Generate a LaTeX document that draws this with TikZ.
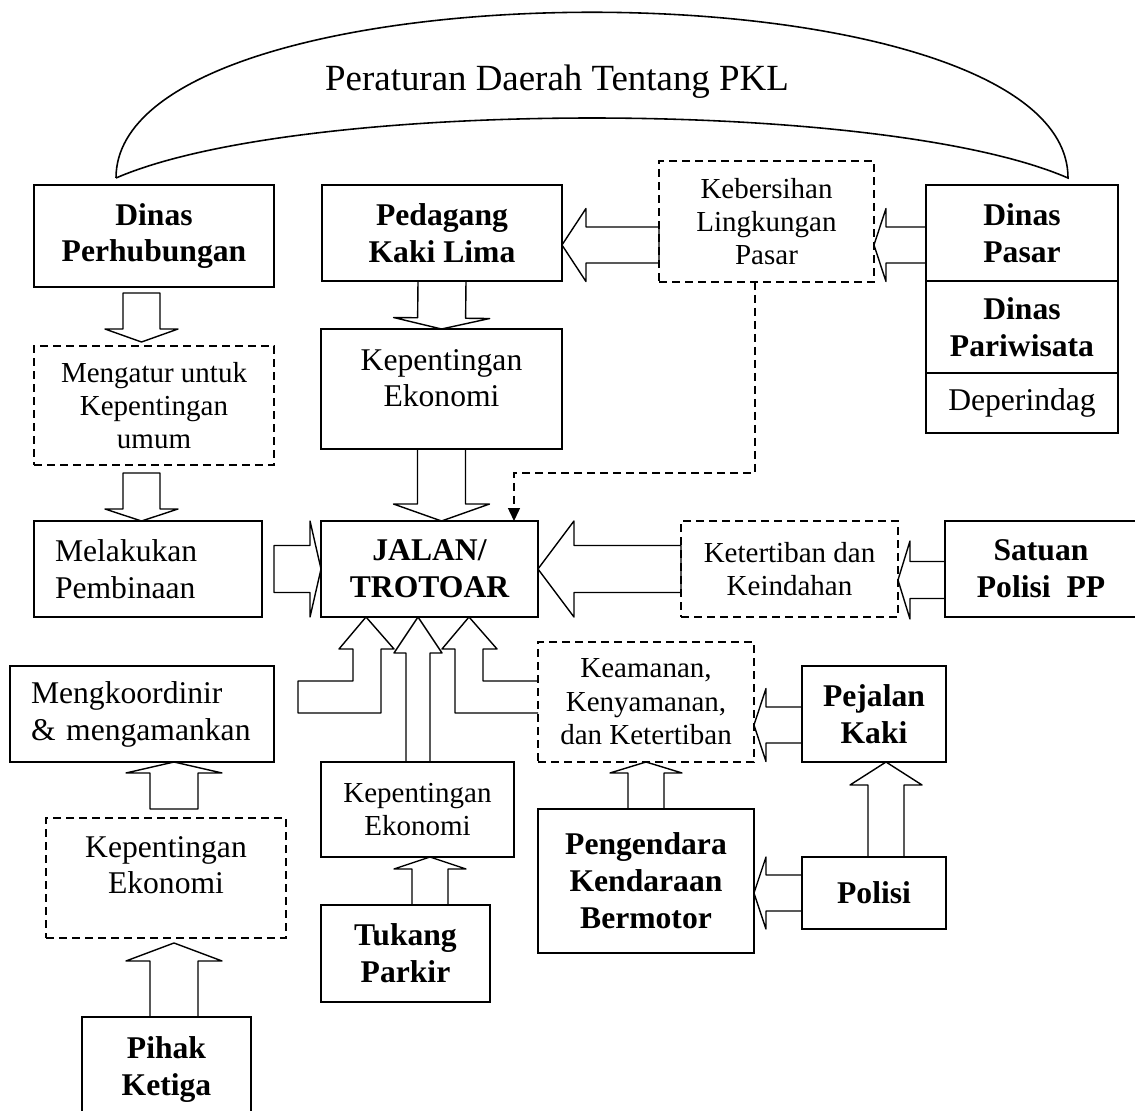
\documentclass[tikz,border=0pt]{standalone}
\usepackage{fontspec}
\setmainfont{Liberation Serif}
\usepackage{tikz}
\usetikzlibrary{arrows.meta,positioning,calc}

\newcommand{\bigtxt}{\fontsize{18}{21}\selectfont}
\newcommand{\smalltxt}{\fontsize{16.5}{19}\selectfont}
\newcommand{\titletxt}{\fontsize{21}{25}\selectfont}

% outlined block arrow: tail, tip, half shaft, half head, head length
\newcommand{\blockarrow}[5]{%
  \coordinate (ba-t) at (#1);
  \coordinate (ba-p) at (#2);
  \coordinate (ba-h) at ($(ba-p)!#5!(ba-t)$);
  \draw[fatarrow] ($(ba-t)!#3!90:(ba-p)$) -- ($(ba-h)!#3!90:(ba-p)$) -- ($(ba-h)!#4!90:(ba-p)$)
    -- (ba-p) -- ($(ba-h)!#4!-90:(ba-p)$) -- ($(ba-h)!#3!-90:(ba-p)$) -- ($(ba-t)!#3!-90:(ba-p)$) -- cycle;
}

\tikzset{
  box/.style={draw,line width=1pt,align=center,inner sep=2pt,outer sep=0pt,font=\bigtxt},
  boldbox/.style={box,font=\bfseries\bigtxt},
  dashbox/.style={box,line width=0.8pt,dash pattern=on 0.16cm off 0.1cm,font=\smalltxt},
  fatarrow/.style={line width=0.8pt,line join=round},
  dashline/.style={line width=0.8pt,dash pattern=on 0.16cm off 0.1cm,-{Triangle[length=0.26cm,width=0.24cm]}},
}

\begin{document}
\begin{tikzpicture}[x=0.02cm,y=-0.02cm]
  \useasboundingbox (0,0) rectangle (1135,1111);

  % top row
  \node[boldbox,minimum width=4.8cm,minimum height=2.04cm] (perhub) at (154,236) {Dinas\\Perhubungan};
  \node[boldbox,minimum width=4.8cm,minimum height=1.92cm] (pkl) at (442,233) {Pedagang\\Kaki Lima};
  \node[dashbox,minimum width=4.3cm,minimum height=2.42cm] (kebersihan) at (766.5,221.5) {Kebersihan\\Lingkungan\\Pasar};
  \node[boldbox,minimum width=3.84cm,minimum height=1.92cm] (dpasar) at (1022,233) {Dinas\\Pasar};
  \node[boldbox,minimum width=3.84cm,minimum height=1.84cm,below=0pt of dpasar] (pariwisata) {Dinas\\Pariwisata};
  \node[box,minimum width=3.84cm,minimum height=1.2cm,below=0pt of pariwisata] (deperindag) {Deperindag};

  % perda arc
  \node[font=\titletxt,anchor=base] (perda) at (557,91) {Peraturan Daerah Tentang PKL};
  \coordinate (arcL) at ($(perhub.north)+(-38,-7)$);
  \coordinate (arcR) at ($(dpasar.north)+(46,-7)$);
  \draw[line width=0.9pt] (arcL) .. controls +(0,-221) and +(0,-221) .. (arcR)
    .. controls +(-184,-80) and +(184,-80) .. (arcL);

  % middle
  \node[dashbox,minimum width=4.8cm,minimum height=2.38cm] (mengatur) at (154,405.5) {Mengatur untuk\\Kepentingan\\umum};
  \node[box,minimum width=4.82cm,minimum height=2.4cm,text depth=0.44cm] (kepeko1) at (441.5,389) {Kepentingan\\Ekonomi};
  \node[box,align=left,text width=3.72cm,inner xsep=0.42cm,minimum height=1.92cm] (melakukan) at (148,569) {Melakukan\\Pembinaan};
  \node[boldbox,minimum width=4.34cm,minimum height=1.92cm] (jalan) at (429.5,569) {JALAN/\\TROTOAR};
  \node[dashbox,minimum width=4.34cm,minimum height=1.92cm] (ketertiban) at (789.5,569) {Ketertiban dan\\Keindahan};
  \node[boldbox,minimum width=3.84cm,minimum height=1.92cm] (satuan) at (1041,569) {Satuan\\Polisi~~PP};

  % bottom
  \node[box,align=left,text width=4.44cm,inner xsep=0.42cm,minimum height=1.92cm] (mengkoord) at (142,714) {Mengkoordinir\\\& mengamankan};
  \node[dashbox,font=\bigtxt,minimum width=4.8cm,minimum height=2.4cm,text depth=0.52cm] (kepeko3) at (166,878) {Kepentingan\\Ekonomi};
  \node[boldbox,minimum width=3.38cm,minimum height=2.38cm,text depth=0.41cm] (pihak) at (166.5,1076.5) {Pihak\\Ketiga};
  \node[box,font=\smalltxt,minimum width=3.86cm,minimum height=1.9cm] (kepeko2) at (417.5,809.5) {Kepentingan\\Ekonomi};
  \node[boldbox,minimum width=3.38cm,minimum height=1.94cm] (tukang) at (405.5,953.5) {Tukang\\Parkir};
  \node[dashbox,minimum width=4.32cm,minimum height=2.4cm] (keamanan) at (646,702) {Keamanan,\\Kenyamanan,\\dan Ketertiban};
  \node[boldbox,minimum width=2.88cm,minimum height=1.92cm] (pejalan) at (874,714) {Pejalan\\Kaki};
  \node[boldbox,minimum width=4.32cm,minimum height=2.88cm] (pengendara) at (646,881) {Pengendara\\Kendaraan\\Bermotor};
  \node[boldbox,minimum width=2.88cm,minimum height=1.44cm] (polisi) at (874,893) {Polisi};

  % block arrows
  \blockarrow{$(perhub.south)+(-12.5,6)$}{$(mengatur.north)+(-12.5,-4)$}{0.37cm}{0.73cm}{0.26cm}
  \blockarrow{$(mengatur.south)+(-12.5,8)$}{$(melakukan.north)+(-6.5,0)$}{0.37cm}{0.73cm}{0.24cm}
  \blockarrow{pkl.south}{kepeko1.north}{0.48cm}{0.96cm}{0.22cm}
  \blockarrow{kepeko1.south}{$(jalan.north)+(12,0)$}{0.48cm}{0.96cm}{0.34cm}
  \blockarrow{$(kebersihan.west)+(0,23.5)$}{$(pkl.east)+(0,12)$}{0.36cm}{0.73cm}{0.48cm}
  \blockarrow{$(dpasar.west)+(0,12)$}{$(kebersihan.east)+(0,23.5)$}{0.36cm}{0.73cm}{0.24cm}
  \blockarrow{$(melakukan.east)+(12,0)$}{jalan.west}{0.47cm}{0.96cm}{0.22cm}
  \blockarrow{ketertiban.west}{jalan.east}{0.47cm}{0.96cm}{0.72cm}
  \blockarrow{$(satuan.west)+(0,11)$}{$(ketertiban.east)+(0,11)$}{0.37cm}{0.78cm}{0.24cm}
  \blockarrow{$(tukang.north)+(24.5,0)$}{$(kepeko2.south)+(12.5,0)$}{0.36cm}{0.72cm}{0.24cm}
  \blockarrow{$(kepeko3.north)+(8,-9)$}{$(mengkoord.south)+(32,0)$}{0.48cm}{0.96cm}{0.22cm}
  \blockarrow{$(pihak.north)+(7.5,0)$}{$(kepeko3.south)+(8,5)$}{0.48cm}{0.96cm}{0.36cm}
  \blockarrow{$(kepeko2.north)+(0.5,0)$}{$(jalan.south)+(-11.5,0)$}{0.24cm}{0.48cm}{0.72cm}
  \blockarrow{pengendara.north}{keamanan.south}{0.36cm}{0.72cm}{0.22cm}
  \blockarrow{$(pejalan.west)+(0,11)$}{$(keamanan.east)+(0,23)$}{0.36cm}{0.73cm}{0.24cm}
  \blockarrow{$(polisi.north)+(12,0)$}{$(pejalan.south)+(12,0)$}{0.36cm}{0.72cm}{0.46cm}
  \blockarrow{polisi.west}{$(pengendara.east)+(0,12)$}{0.36cm}{0.72cm}{0.24cm}

  % bent arrows under the road box
  \coordinate (jl) at ($(jalan.south)+(-63.5,0)$);
  \coordinate (jr) at ($(jalan.south)+(39.5,0)$);
  \draw[fatarrow] (jl) -- ++(28,32) -- ++(-13,0) -- ++(0,64) -- ++(-83,0) -- ++(0,-32) -- ++(55,0) -- ++(0,-32) -- ++(-14,0) -- cycle;
  \draw[fatarrow] ($(keamanan.west)+(0,-21)$) -| ++(-55,-32) -- ++(14,0) -- (jr) -- ++(-27,32) -- ++(13,0) |- ($(keamanan.west)+(0,11)$);

  % dashed link
  \draw[dashline] ($(kebersihan.south)+(-11.5,0)$) |- ($(jalan.north)+(84.5,-48)$) -- ($(jalan.north)+(84.5,0)$);
\end{tikzpicture}
\end{document}
